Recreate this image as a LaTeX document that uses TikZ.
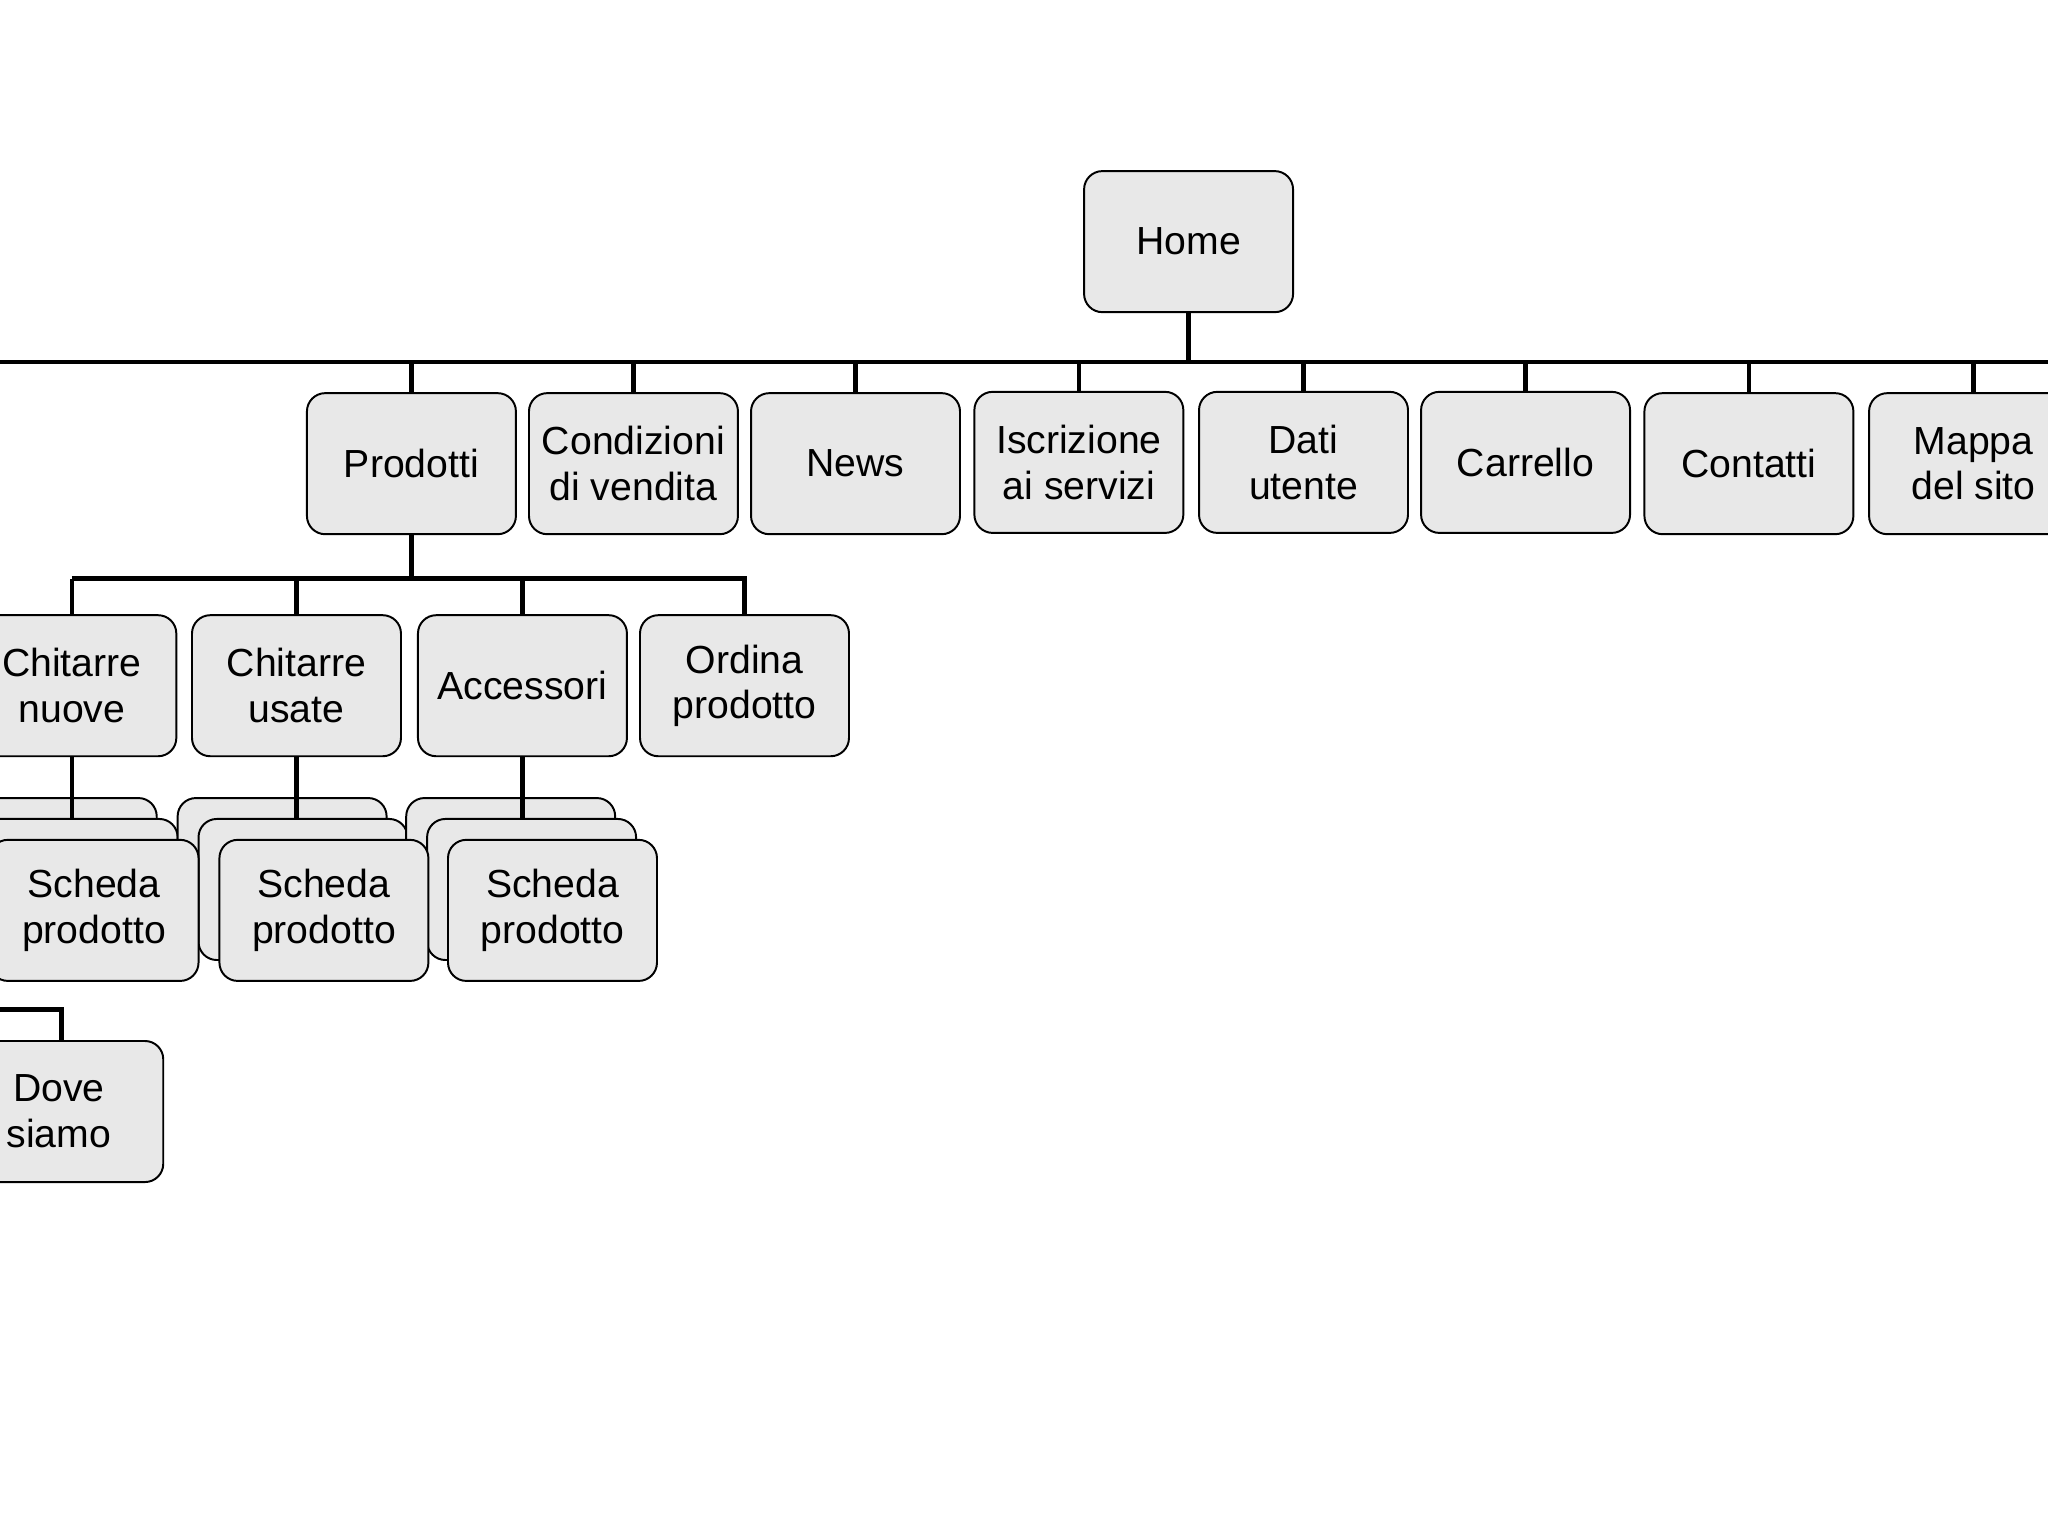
\documentclass[tikz,border=0pt]{standalone}
\usepackage{fontspec}
\setmainfont{Liberation Sans}
\begin{document}
\begin{tikzpicture}[x=1pt,y=-1pt,
  box/.style={draw=black,line width=1.5pt,fill=gray!18,rounded corners=14pt,
    minimum width=160pt,minimum height=108pt,align=center,inner sep=0pt,
    font=\fontsize{30}{35}\selectfont},
  bk/.style={box},
  ln/.style={line width=3.5pt}]
\useasboundingbox (0,0) rectangle (1568,1176);
\clip (0,0) rectangle (1568,1176);
\node[box] (home) at (910,185) {Home};
\coordinate (busL) at (0,277);
\coordinate (busR) at (1568,277);
\node[box] (prod) at (315,355) {Prodotti};
\node[box] (cond) at (485,355) {Condizioni\\di vendita};
\node[box] (news) at (655,355) {News};
\node[box] (iscr) at (826,354) {Iscrizione\\ai servizi};
\node[box] (dati) at (998,354) {Dati\\utente};
\node[box] (carr) at (1168,354) {Carrello};
\node[box] (cont) at (1339,355) {Contatti};
\node[box] (mapp) at (1511,355) {Mappa\\del sito};
\draw[ln] (busL) -- (busR);
\draw[ln] (home.south) -- (home.south|-busL);
\foreach \n in {prod,cond,news,iscr,dati,carr,cont,mapp}
  \draw[ln] (\n.north) -- (\n.north|-busL);
% level 3
\node[box] (cn) at (55,525) {Chitarre\\nuove};
\node[box] (cu) at (227,525) {Chitarre\\usate};
\node[box] (acc) at (400,525) {Accessori};
\node[box] (ord) at (570,525) {Ordina\\prodotto};
\coordinate (b3L) at (55,443);
\coordinate (b3R) at (572,443);
\draw[ln] (prod.south) -- (prod.south|-b3L);
\draw[ln] (b3L) -- (b3R);
\foreach \n in {cn,cu,acc,ord}
  \draw[ln] (\n.north) -- (\n.north|-b3L);
% stacks
\node[bk] (s1c) at (40,665) {};
\node[bk] (s1b) at (56,681) {};
\node[bk] (s2c) at (216,665) {};
\node[bk] (s2b) at (232,681) {};
\node[bk] (s3c) at (391,665) {};
\node[bk] (s3b) at (407,681) {};
\node[box] (s1) at (72,697) {Scheda\\prodotto};
\node[box] (s2) at (248,697) {Scheda\\prodotto};
\node[box] (s3) at (423,697) {Scheda\\prodotto};
\draw[ln] (cn.south) -- (cn.south|-s1c.north) -- ++(0,16);
\draw[ln] (cu.south) -- (cu.south|-s2c.north) -- ++(0,16);
\draw[ln] (acc.south) -- (acc.south|-s3c.north) -- ++(0,16);
% dove siamo
\node[box] (dove) at (45,851) {Dove\\siamo};
\coordinate (dl) at (0,773);
\draw[ln] (dl) -- (47,773) -- (47,797);
\end{tikzpicture}
\end{document}
